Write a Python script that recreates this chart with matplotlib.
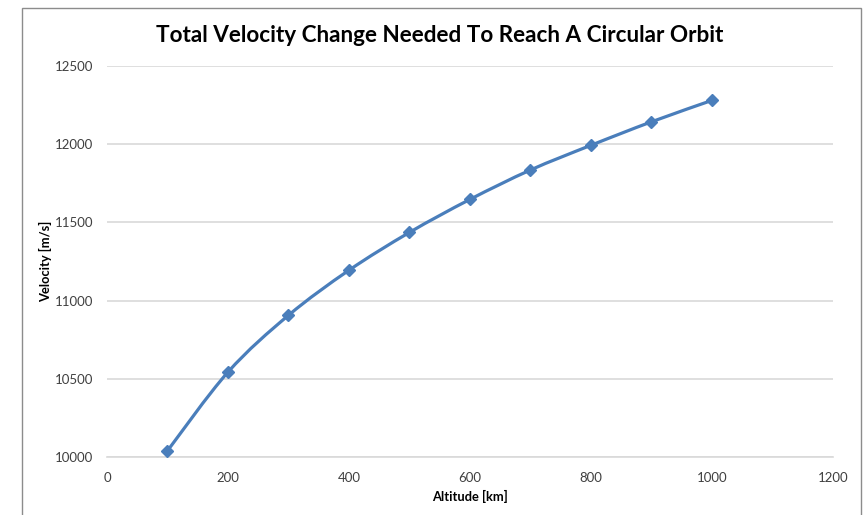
"""Total velocity change needed to reach a circular orbit"""

import numpy as np
import matplotlib
matplotlib.use("Agg")
import matplotlib.pyplot as plt
from matplotlib.path import Path
from matplotlib.patches import PathPatch, Rectangle

# ── data ──
altitude_km = [100, 200, 300, 400, 500, 600, 700, 800, 900, 1000]
velocity_ms = [10040, 10543, 10906, 11194, 11436, 11647, 11835, 11993, 12143, 12280]
x_ticks = [0, 200, 400, 600, 800, 1000, 1200]
y_ticks = [10000, 10500, 11000, 11500, 12000, 12500]

LINE = "#4a7ebb"
GRID = "#d9d9d9"
TEXT = "#404040"

plt.rcParams["font.family"] = ["Lato", "DejaVu Sans"]


def smooth_path(xs, ys):
    """Excel-style smoothed line as cubic bezier segments"""
    pts = np.column_stack([xs, ys]).astype(float)
    n = len(pts)
    verts = [pts[0]]
    codes = [Path.MOVETO]
    for i in range(n - 1):
        p0 = pts[i - 1] if i > 0 else pts[i]
        p1, p2 = pts[i], pts[i + 1]
        p3 = pts[i + 2] if i + 2 < n else pts[i + 1]
        c1 = p1 + (p2 - p0) / 6
        c2 = p2 - (p3 - p1) / 6
        verts += [c1, c2, p2]
        codes += [Path.CURVE4] * 3
    return Path(verts, codes)


fig = plt.figure(figsize=(8.63, 5.15), dpi=100)
ax = fig.add_axes([0.124, 0.1126, 0.841, 0.7592])

# chart frame
fig.patches.append(Rectangle((22 / 863, -0.05), (861 - 22) / 863, 1.05 - 8 / 515,
                             transform=fig.transFigure, fill=False,
                             edgecolor="#8c8c8c", linewidth=1.0))

ax.add_patch(PathPatch(smooth_path(altitude_km, velocity_ms), facecolor="none",
                       edgecolor=LINE, linewidth=2.3, zorder=3))
ax.plot(altitude_km, velocity_ms, linestyle="none", marker="D", markersize=6.5,
        color=LINE, zorder=4)

ax.set_xlim(0, 1200)
ax.set_ylim(10000, 12500)
ax.set_xticks(x_ticks)
ax.set_yticks(y_ticks)
ax.yaxis.grid(True, color=GRID, linewidth=1.2)
ax.set_axisbelow(True)
for side in ["top", "right", "left"]:
    ax.spines[side].set_visible(False)
ax.spines["bottom"].set_color(GRID)
ax.spines["bottom"].set_linewidth(1.2)
ax.tick_params(length=0, labelsize=9.5, labelcolor=TEXT)
ax.tick_params(axis="y", pad=10)
ax.tick_params(axis="x", pad=11)

ax.set_xlabel("Altitude [km]", fontsize=9.3, fontweight="bold", color="black", labelpad=4)
ax.set_ylabel("Velocity [m/s]", fontsize=9.3, fontweight="bold", color="black", labelpad=2)
fig.text(0.51, 0.932, "Total Velocity Change Needed To Reach A Circular Orbit",
         ha="center", va="center", fontsize=16.2, fontweight="bold")

fig.savefig("out.png", dpi=100)
